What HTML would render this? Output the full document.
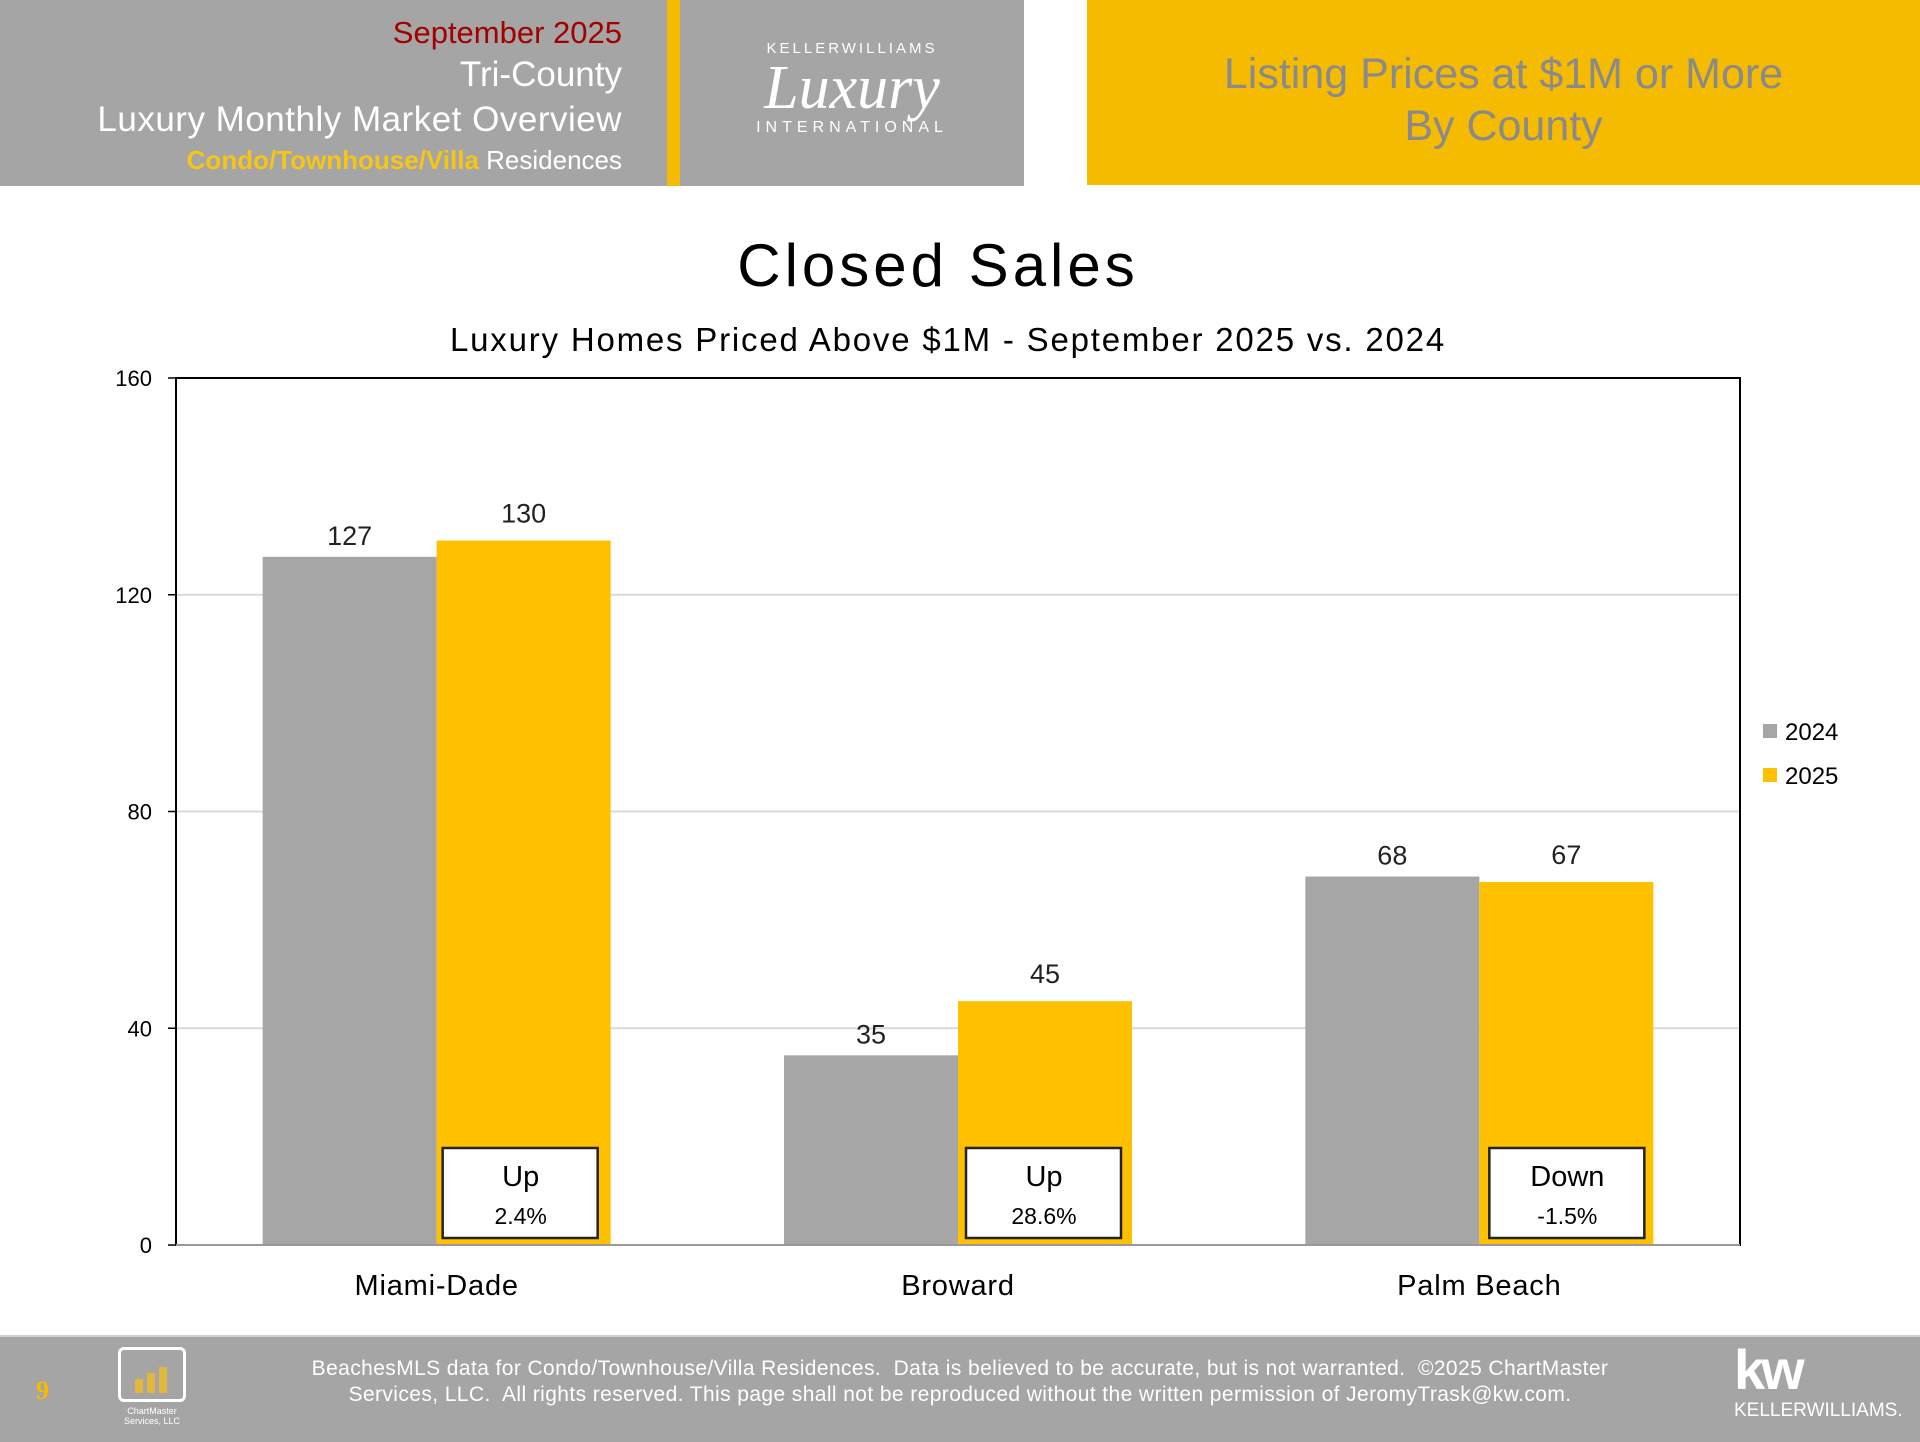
<!DOCTYPE html>
<html><head><meta charset="utf-8">
<style>
html,body{margin:0;padding:0;width:1920px;height:1440px;overflow:hidden;background:#fff;font-family:"Liberation Sans",sans-serif;}
.abs{position:absolute;}
</style></head>
<body>
<div class="abs" style="left:0;top:0;width:667px;height:186px;background:#a5a5a5"></div>
<div class="abs" style="left:667px;top:0;width:13px;height:186px;background:#f5bb00"></div>
<div class="abs" style="left:680px;top:0;width:344px;height:186px;background:#a5a5a5"></div>
<div class="abs" style="left:1087px;top:0;width:833px;height:185px;background:#f5bb00"></div>

<div class="abs" style="right:1298px;top:15px;font-size:31px;color:#a30000;white-space:nowrap">September 2025</div>
<div class="abs" style="right:1298px;top:55px;font-size:35px;color:#fff;white-space:nowrap">Tri-County</div>
<div class="abs" style="right:1298px;top:100px;font-size:35px;color:#fff;white-space:nowrap;letter-spacing:0.5px">Luxury Monthly Market Overview</div>
<div class="abs" style="right:1298px;top:145px;font-size:26px;color:#fff;white-space:nowrap"><b style="color:#f5c518">Condo/Townhouse/Villa</b> Residences</div>

<div class="abs" style="left:690px;top:40px;width:324px;height:110px;color:#fff;text-align:center">
<div style="font-size:15px;letter-spacing:3px">KELLERWILLIAMS</div>
<div style="font-family:'Liberation Serif',serif;font-style:italic;font-size:62px;line-height:62px">Luxury</div>
<div style="font-size:16px;letter-spacing:5px">INTERNATIONAL</div>
</div>

<div class="abs" style="left:1087px;top:48px;width:833px;text-align:center;font-size:43px;line-height:52px;color:#8a8a8a">Listing Prices at $1M or More<br>By County</div>

<svg class="abs" style="left:0;top:0" width="1920" height="1440" id="chart"></svg>

<div class="abs" style="left:0;top:1335px;width:1920px;height:105px;background:#a5a5a5;border-top:2px solid #d0d0d0"></div>
<div class="abs" style="left:36px;top:1376px;font-size:26px;font-weight:bold;color:#f5bb00;font-family:'Liberation Serif',serif">9</div>
<div class="abs" style="left:118px;top:1347px;width:68px;height:55px;border:3px solid #fff;border-radius:6px;box-sizing:border-box">
<div style="position:absolute;left:14px;bottom:6px;width:8px;height:14px;background:#e3b63c"></div>
<div style="position:absolute;left:26px;bottom:6px;width:8px;height:20px;background:#e3b63c"></div>
<div style="position:absolute;left:38px;bottom:6px;width:8px;height:26px;background:#e3b63c"></div>
</div>
<div class="abs" style="left:112px;top:1406px;width:80px;text-align:center;font-size:9px;color:#fff;line-height:10px">ChartMaster<br>Services, LLC</div>
<div class="abs" style="left:220px;top:1356px;width:1480px;text-align:center;font-size:21px;line-height:26px;color:#fff;letter-spacing:0.4px">BeachesMLS data for Condo/Townhouse/Villa Residences.&nbsp; Data is believed to be accurate, but is not warranted.&nbsp; ©2025 ChartMaster<br>Services, LLC.&nbsp; All rights reserved. This page shall not be reproduced without the written permission of JeromyTrask@kw.com.</div>
<div class="abs" style="left:1734px;top:1340px;color:#fff">
<div style="font-size:56px;font-weight:bold;line-height:60px;letter-spacing:-4px">kw</div>
<div style="font-size:19px">KELLERWILLIAMS.</div>
</div>

<script>
const categories = ["Miami-Dade","Broward","Palm Beach"];
const series2024 = [127,35,68];
const series2025 = [130,45,67];
const changeDir = ["Up","Up","Down"];
const changePct = ["2.4%","28.6%","-1.5%"];
const yTicks = [0,40,80,120,160];

const svg = document.getElementById('chart');
const NS = 'http://www.w3.org/2000/svg';
const L=176,R=1740,T=378,B=1245,YMAX=160;
const y = v => B - v/YMAX*(B-T);
const groupW = (R-L)/categories.length;
const xc = i => L + groupW*(i+0.5);
const barW = 174;
function mk(tag, attrs, txt){
  const e=document.createElementNS(NS,tag);
  for(const k in attrs) e.setAttribute(k,attrs[k]);
  if(txt!==undefined) e.textContent=txt;
  svg.appendChild(e); return e;
}
const F='"Liberation Sans", sans-serif';
let t=mk('text',{x:938,y:286,'text-anchor':'middle','font-size':60,'letter-spacing':4,fill:'#000','font-family':F},'Closed Sales');


t=mk('text',{x:948,y:351,'text-anchor':'middle','font-size':33,'letter-spacing':1.8,fill:'#000','font-family':F},'Luxury Homes Priced Above $1M - September 2025 vs. 2024');



yTicks.forEach(v=>{
  if(v>0){
    const g=mk('line',{x1:L,x2:R,y1:y(v),y2:y(v),stroke:'#d9d9d9','stroke-width':2});
    
    
  }
  const tk=mk('line',{x1:L-8,x2:L,y1:y(v),y2:y(v),stroke:'#000','stroke-width':1.5});
  
  
  const lb=mk('text',{x:152,y:y(v)+8,'text-anchor':'end','font-size':22,fill:'#000','font-family':F},String(v));
  
  
});

categories.forEach((c,i)=>{
  const x0=xc(i);
  const b1=mk('rect',{x:x0-barW,y:y(series2024[i]),width:barW,height:B-y(series2024[i]),fill:'#a6a6a6'});
  
  
  const b2=mk('rect',{x:x0,y:y(series2025[i]),width:barW,height:B-y(series2025[i]),fill:'#ffc000'});
  
  
  const l1=mk('text',{x:x0-barW/2,y:y(series2024[i])-12,'text-anchor':'middle','font-size':27,fill:'#222','font-family':F},String(series2024[i]));
  
  
  const l2=mk('text',{x:x0+barW/2,y:y(series2025[i])-18,'text-anchor':'middle','font-size':27,fill:'#222','font-family':F},String(series2025[i]));
  
  
  const cl=mk('text',{x:x0,y:1295,'text-anchor':'middle','font-size':29,'letter-spacing':0.8,fill:'#000','font-family':F},c);
  
  
  const bx=mk('rect',{x:x0+6+i*2,y:1148,width:155,height:90,fill:'#fff',stroke:'#222','stroke-width':2.5});
  
  
  const d=mk('text',{x:x0+84+i*2,y:1186,'text-anchor':'middle','font-size':29,fill:'#000','font-family':F},changeDir[i]);
  
  
  const p=mk('text',{x:x0+84+i*2,y:1224,'text-anchor':'middle','font-size':23,fill:'#000','font-family':F},changePct[i]);
  
  
});

const frame=mk('rect',{x:L,y:T,width:R-L,height:B-T,fill:'none',stroke:'#000','stroke-width':2});


const ax=mk('line',{x1:L,x2:R,y1:B,y2:B,stroke:'#999','stroke-width':2});



[['2024','#a6a6a6',731],['2025','#ffc000',775]].forEach(([n,col,yy])=>{
  const s=mk('rect',{x:1763,y:yy-7,width:14,height:14,fill:col});
  
  
  const tx=mk('text',{x:1785,y:yy+9,'font-size':24,fill:'#000','font-family':F},n);
  
  
});
</script>
</body></html>
